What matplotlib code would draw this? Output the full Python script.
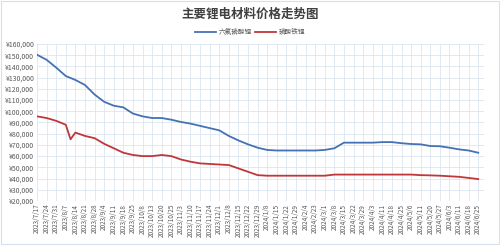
import matplotlib
matplotlib.use("Agg")
import matplotlib.pyplot as plt
from matplotlib.ticker import FuncFormatter, MultipleLocator
from matplotlib.patches import Rectangle

plt.rcParams['font.family'] = ['Noto Sans CJK SC', 'DejaVu Sans']

title = "主要锂电材料价格走势图"
series_names = ["六氟磷酸锂", "磷酸铁锂"]

dates = ["2023/7/17", "2023/7/24", "2023/7/31", "2023/8/7", "2023/8/14", "2023/8/21",
         "2023/8/28", "2023/9/4", "2023/9/11", "2023/9/18", "2023/9/25", "2023/10/8",
         "2023/10/13", "2023/10/20", "2023/10/25", "2023/11/3", "2023/11/10", "2023/11/17",
         "2023/11/24", "2023/12/1", "2023/12/8", "2023/12/15", "2023/12/22", "2023/12/29",
         "2024/1/8", "2024/1/15", "2024/1/22", "2024/1/29", "2024/2/4", "2024/2/23",
         "2024/3/1", "2024/3/8", "2024/3/15", "2024/3/22", "2024/3/29", "2024/4/3",
         "2024/4/11", "2024/4/18", "2024/4/25", "2024/5/6", "2024/5/11", "2024/5/20",
         "2024/5/27", "2024/6/3", "2024/6/11", "2024/6/18", "2024/6/25"]

lipf6 = [150500, 146000, 139000, 131500, 128000, 123500, 115000, 108500, 105000, 103500,
         98000, 95500, 94000, 94000, 92500, 90500, 89000, 87000, 85000, 83000,
         78000, 74000, 70500, 67500, 65500, 65000, 65000, 65000, 65000, 65000,
         65500, 67000, 72000, 72000, 72000, 72000, 72500, 72500, 71500, 70800,
         70500, 69000, 68800, 67500, 66000, 65000, 63000]

lfp = [95500, 94000, 91500, 88000, 81000, 78000, 76000, 71000, 67000, 63000,
       61000, 60000, 60000, 61000, 60000, 57000, 55000, 53500, 53000, 52500,
       52000, 49000, 46000, 43000, 42500, 42500, 42500, 42500, 42500, 42500,
       42500, 43500, 43500, 43500, 43500, 43500, 43500, 43500, 43500, 43500,
       43000, 42800, 42500, 42000, 41500, 40500, 39500]
# short dip between 2023/8/7 and 2023/8/14
lfp_dip_pos = 3.5
lfp_dip_val = 75000

fig = plt.figure(figsize=(5.0, 2.45), dpi=100)
fig.patches.append(Rectangle((0.002, 0.004), 0.996, 0.992, transform=fig.transFigure,
                             fill=False, edgecolor='#D6E0EC', linewidth=0.8))
ax = fig.add_axes([0.074, 0.180, 0.894, 0.640])

xs = list(range(len(dates)))
lfp_x = xs[:4] + [lfp_dip_pos] + xs[4:]
lfp_y = lfp[:4] + [lfp_dip_val] + lfp[4:]

ax.plot(xs, lipf6, color='#4472B4', linewidth=1.3, label=series_names[0], solid_joinstyle='round')
ax.plot(lfp_x, lfp_y, color='#C0373A', linewidth=1.3, label=series_names[1], solid_joinstyle='round')

ax.set_xlim(0, len(dates) - 0.4)
ax.set_ylim(20000, 160000)
ax.yaxis.set_major_locator(MultipleLocator(10000))
ax.yaxis.set_major_formatter(FuncFormatter(lambda v, p: "¥{:,.0f}".format(v)))
ax.set_xticks(xs)
ax.set_xticklabels(dates, rotation=90, fontsize=4.6, color='#595959')
ax.tick_params(axis='y', labelsize=5, colors='#595959', length=0, pad=2)
ax.tick_params(axis='x', length=0, pad=2)
ax.grid(True, color='#DCE5F0', linewidth=0.6)
ax.set_axisbelow(True)
for s in ax.spines.values():
    s.set_visible(False)

fig.text(0.5, 0.943, title, ha='center', va='center', fontsize=9, fontweight='bold', color='#404040')
leg = fig.legend(loc='center', bbox_to_anchor=(0.5, 0.868), ncol=2, frameon=False,
                 fontsize=4.8, handlelength=3.2, handletextpad=0.4, columnspacing=0.4,
                 labelcolor='#595959')

fig.savefig("out.png", dpi=100, facecolor='white')
